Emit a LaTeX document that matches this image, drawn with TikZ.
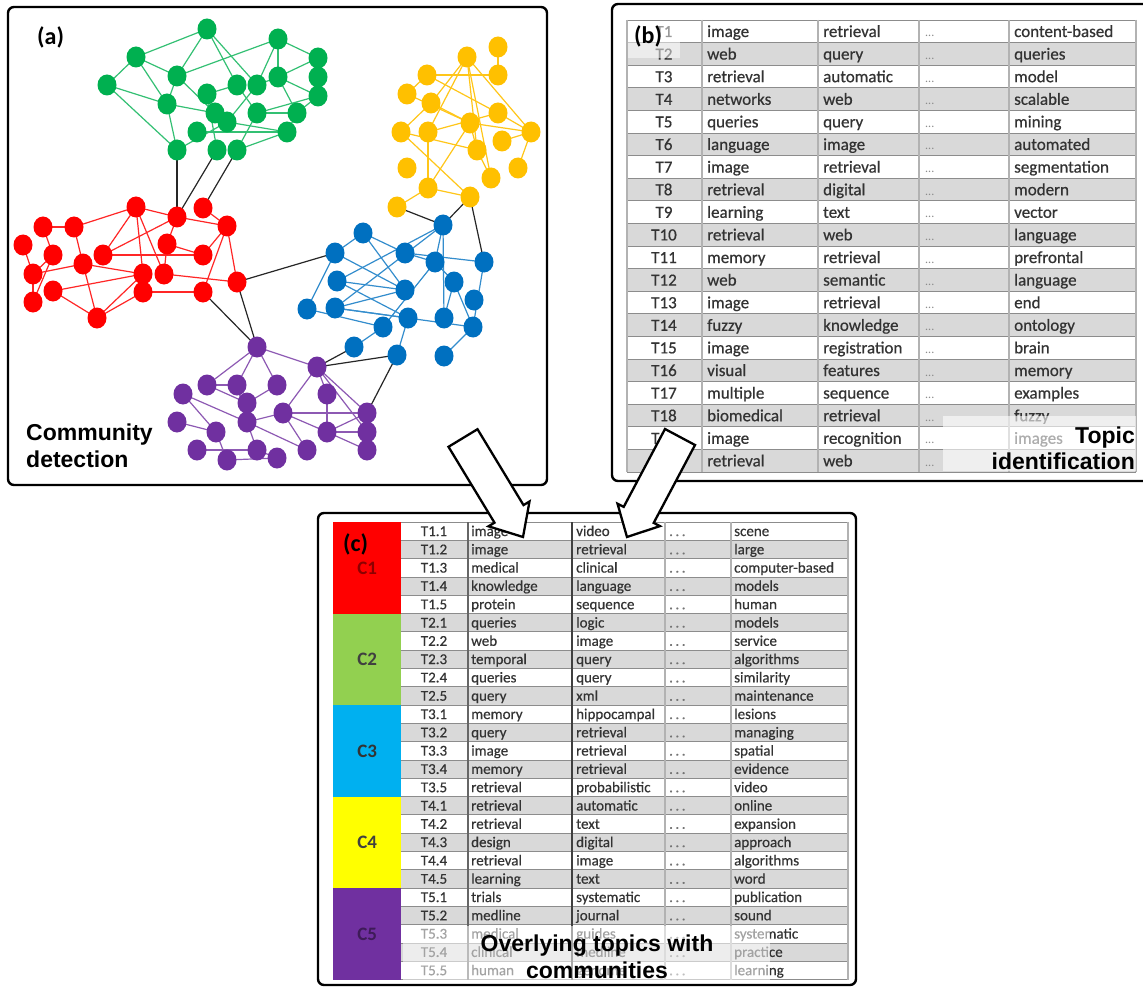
\documentclass[tikz,border=0pt]{standalone}
\usepackage{fontspec}
\setmainfont{Carlito}
\newfontfamily\lsans{Liberation Sans}
\usetikzlibrary{shapes.geometric,backgrounds}
\definecolor{cG}{HTML}{00B050}
\definecolor{cR}{HTML}{FF0000}
\definecolor{cY}{HTML}{FFC000}
\definecolor{cB}{HTML}{0070C0}
\definecolor{cP}{HTML}{7030A0}
\definecolor{rowgray}{HTML}{D9D9D9}
\definecolor{tgray}{HTML}{333333}
\definecolor{cc1}{HTML}{FF0000}
\definecolor{cc2}{HTML}{92D050}
\definecolor{cc3}{HTML}{00B0F0}
\definecolor{cc4}{HTML}{FFFF00}
\definecolor{cc5}{HTML}{7030A0}
\begin{document}
\begin{tikzpicture}[x=1pt,y=-1pt,
  nd/.style={ellipse, minimum width=19pt, minimum height=21pt, inner sep=0pt, draw=none},
  gn/.style={nd, fill=cG}, rn/.style={nd, fill=cR}, yn/.style={nd, fill=cY},
  bn/.style={nd, fill=cB}, pn/.style={nd, fill=cP},
  ge/.style={draw=cG!80!white, line width=1.2pt},
  re/.style={draw=cR!85!white, line width=1.2pt},
  ye/.style={draw=cY!90!white, line width=1.2pt},
  be/.style={draw=cB!80!white, line width=1.2pt},
  pe/.style={draw=cP!80!white, line width=1.2pt},
  xe/.style={draw=black!85, line width=1.2pt},
  panel/.style={draw=black, line width=2.4pt, rounded corners=6pt},
  tb/.style={font=\fontsize{17}{17}\selectfont\addfontfeatures{FakeBold=0.6}, text=tgray, inner sep=0pt},
  tbd/.style={font=\fontsize{12}{12}\selectfont, text=black!45, inner sep=0pt},
  tc/.style={font=\fontsize{15}{15}\selectfont\addfontfeatures{FakeBold=0.4}, text=tgray, inner sep=0pt},
  lab/.style={font=\lsans\bfseries\fontsize{23}{23}\selectfont, inner sep=0pt},
  plab/.style={font=\bfseries\fontsize{24}{24}\selectfont, inner sep=0pt},
  cblock/.style={minimum width=68pt, minimum height=91.5pt, inner sep=0pt, font=\bfseries\fontsize{19}{19}\selectfont},
  bline/.style={draw=black!45, line width=0.8pt},
  bvline/.style={draw=black!30, line width=1.4pt},
  blockarrow/.style={fill=white, draw=black, line width=2.3pt, line join=miter}
]
\useasboundingbox (0,0) rectangle (1143,987);
\begin{scope}[on background layer]
\fill[white] (0,0) rectangle (1143,987);
\end{scope}

% ---------- panels
\draw[panel] (8,7) rectangle (547,485);
\draw[panel] (612,4) rectangle (1165,481);
\draw[panel] (318,513) rectangle (856,985);

% ---------- network nodes
\foreach \n/\x/\y in {1/207/29,2/278/39,3/136/57,4/318/58,5/107/85,6/177/76,7/278/77,8/318/77,9/237/85,10/257/85,11/207/94,12/318/96,13/167/104,14/257/113,15/215/113,16/227/122,17/297/113,18/197/132,19/287/132,20/177/150,21/217/150,22/237/150}
  \node[gn] (g\n) at (\x,\y) {};
\foreach \n/\x/\y in {1/136/207,2/177/217,3/203/208,4/43/227,5/74/227,6/227/226,7/23/245,8/53/255,9/103/255,10/167/244,11/203/255,12/83/264,13/33/274,14/143/274,15/164/274,16/237/282,17/53/291,18/143/292,19/203/292,20/33/302,21/97/318}
  \node[rn] (r\n) at (\x,\y) {};
\foreach \n/\x/\y in {1/498/47,2/467/57,3/427/75,4/498/75,5/407/94,6/431/103,7/498/113,8/470/123,9/401/132,10/428/132,11/531/132,12/502/141,13/477/150,14/407/168,15/518/168,16/491/178,17/428/188,18/470/197,19/397/207}
  \node[yn] (y\n) at (\x,\y) {};
\foreach \n/\x/\y in {1/443/225,2/363/233,3/335/253,4/405/253,5/435/262,6/484/262,7/337/281,8/405/290,9/454/282,10/474/300,11/307/309,12/335/308,13/408/318,14/444/318,15/383/327,16/473/327,17/354/347,18/397/355,19/444/356}
  \node[bn] (b\n) at (\x,\y) {};
\foreach \n/\x/\y in {1/257/347,2/317/367,3/207/385,4/237/385,5/277/385,6/183/394,7/327/394,8/247/403,9/283/413,10/367/413,11/177/422,12/247/422,13/216/432,14/327/432,15/367/432,16/197/450,17/257/450,18/307/450,19/367/450,20/227/460,21/277/458}
  \node[pn] (p\n) at (\x,\y) {};

% ---------- network edges (behind the nodes)
\begin{scope}[on background layer]
\foreach \a/\b in {1/3,1/6,1/9,1/10,3/5,3/6,3/13,5/13,5/20,6/2,6/13,6/15,2/4,2/7,2/10,4/7,4/8,8/12,7/12,7/17,9/11,9/14,10/7,12/14,14/17,14/22,13/15,13/20,15/16,16/19,18/19,19/22,20/16,11/21,17/19,10/16,12/17}
  \draw[ge] (g\a.center) -- (g\b.center);
\foreach \a/\b in {1/5,1/2,1/9,1/14,1/15,2/6,2/9,2/10,3/6,4/5,4/8,5/12,6/11,6/16,6/19,7/13,8/13,9/11,10/11,12/13,12/21,14/17,14/21,15/16,17/21,18/19,18/21,13/20,15/10,12/14,8/20}
  \draw[re] (r\a.center) -- (r\b.center);
\foreach \a/\b in {1/4,3/4,2/6,2/10,2/13,2/16,2/11,3/7,3/5,5/8,6/8,9/13,10/7,8/11,7/11,8/17,10/17,9/18,17/18,19/17,13/16,8/13,12/11,15/11,9/6}
  \draw[ye] (y\a.center) -- (y\b.center);
\foreach \a/\b in {2/3,2/4,2/8,3/11,3/8,1/7,1/12,1/5,1/14,4/6,4/5,5/9,6/16,7/13,8/12,9/16,11/15,12/16,13/18,15/17,16/19,5/15,7/8,9/14,12/13}
  \draw[be] (b\a.center) -- (b\b.center);
\foreach \a/\b in {1/3,1/4,1/5,1/2,2/7,2/9,2/10,3/4,3/8,4/12,5/8,6/12,6/13,9/10,9/14,9/18,10/14,10/19,11/13,12/18,12/17,12/9,13/20,14/15,14/19,16/17,20/21,7/14,2/15,17/21,8/12}
  \draw[pe] (p\a.center) -- (p\b.center);
\draw[xe] (g20.center) -- (r2.center);
\draw[xe] (g21.center) -- (r2.center);
\draw[xe] (g22.center) -- (r3.center);
\draw[xe] (r16.center) -- (b3.center);
\draw[xe] (r16.center) -- (p1.center);
\draw[xe] (r19.center) -- (p1.center);
\draw[xe] (y19.center) -- (b1.center);
\draw[xe] (y18.center) -- (b1.center);
\draw[xe] (y18.center) -- (b6.center);
\draw[xe] (p2.center) -- (b17.center);
\draw[xe] (p2.center) -- (b18.center);
\draw[xe] (b18.center) -- (p10.center);
\end{scope}

\node[plab, anchor=base west] (la) at (37,45) {(a)};
\node[lab, anchor=base west] (cd1) at (26,440) {Community};
\node[lab, anchor=base west] (cd2) at (26,467) {detection};

% ---------- table (b)
\foreach \t/\a/\bb/\e [count=\k] in {T1/image/retrieval/content-based,T2/web/query/queries,T3/retrieval/automatic/model,T4/networks/web/scalable,T5/queries/query/mining,T6/language/image/automated,T7/image/retrieval/segmentation,T8/retrieval/digital/modern,T9/learning/text/vector,T10/retrieval/web/language,T11/memory/retrieval/prefrontal,T12/web/semantic/language,T13/image/retrieval/end,T14/fuzzy/knowledge/ontology,T15/image/registration/brain,T16/visual/features/memory,T17/multiple/sequence/examples,T18/biomedical/retrieval/fuzzy,T19/image/recognition/images,T20/retrieval/web/{}}{
  \pgfmathsetmacro\yt{20+(\k-1)*22.6}
  \pgfmathsetmacro\yb{\yt+17}
  \ifodd\k \def\rf{white}\else\def\rf{rowgray}\fi
  \fill[\rf] (627,\yt) rectangle (1136,\yt+22.6);
  \node[tb, anchor=base] (bl\k) at (664,\yb) {\t};
  \node[tb, anchor=base west] (bw\k) at (707,\yb) {\a};
  \node[tb, anchor=base west] (bx\k) at (823,\yb) {\bb};
  \node[tbd, anchor=base west] (bd\k) at (925,\yb) {...};
  \node[tb, anchor=base west] (be\k) at (1014,\yb) {\e};
}
\foreach \k in {0,...,20} \draw[bline] (627,{20+\k*22.6}) -- (1136,{20+\k*22.6});
\foreach \x in {627,702,818,919,1009,1136} \draw[bvline] (\x,20) -- (\x,472);
\fill[white, opacity=0.5] (628,21) rectangle (680,58);
\fill[white, opacity=0.6] (943,416) rectangle (1136,471);
\node[plab, anchor=base west] (lb) at (634,44) {(b)};
\node[lab, anchor=base east] (ti1) at (1135,443) {Topic};
\node[lab, anchor=base east] (ti2) at (1135,469) {identification};

% ---------- table (c)
\foreach \t/\a/\bb/\e [count=\k] in {T1.1/image/video/scene,T1.2/image/retrieval/large,T1.3/medical/clinical/computer-based,T1.4/knowledge/language/models,T1.5/protein/sequence/human,T2.1/queries/logic/models,T2.2/web/image/service,T2.3/temporal/query/algorithms,T2.4/queries/query/similarity,T2.5/query/xml/maintenance,T3.1/memory/hippocampal/lesions,T3.2/query/retrieval/managing,T3.3/image/retrieval/spatial,T3.4/memory/retrieval/evidence,T3.5/retrieval/probabilistic/video,T4.1/retrieval/automatic/online,T4.2/retrieval/text/expansion,T4.3/design/digital/approach,T4.4/retrieval/image/algorithms,T4.5/learning/text/word,T5.1/trials/systematic/publication,T5.2/medline/journal/sound,T5.3/medical/guides/systematic,T5.4/clinical/medline/practice,T5.5/human/genome/learning}{
  \pgfmathsetmacro\yt{522+(\k-1)*18.3}
  \pgfmathsetmacro\yb{\yt+14}
  \ifodd\k \def\rf{white}\else\def\rf{rowgray}\fi
  \fill[\rf] (401,\yt) rectangle (848,\yt+18.3);
  \node[tc, anchor=base] (cl\k) at (434,\yb) {\t};
  \node[tc, anchor=base west] (cw\k) at (471,\yb) {\a};
  \node[tc, anchor=base west] (cx\k) at (576,\yb) {\bb};
  \node[tc, anchor=base west, text=black!55] (cd\k) at (669,\yb) {.\,.\,.};
  \node[tc, anchor=base west] (ce\k) at (734,\yb) {\e};
}
\foreach \k in {0,...,25} \draw[bline] (401,{522+\k*18.3}) -- (848,{522+\k*18.3});
\foreach \x in {665,731,848} \draw[bvline, line width=1.1pt] (\x,522) -- (\x,979.5);
\draw[draw=black!60, line width=1.1pt] (468,522) -- (468,979.5);
\draw[draw=black!75, line width=1.1pt] (572,522) -- (572,979.5);
\node[cblock, anchor=north west, fill=cc1, text=cc1!55!black] (C1) at (333,522) {\raisebox{-12pt}{C1}};
\node[cblock, anchor=north west, fill=cc2, text=black!75] (C2) at (333,613.5) {C2};
\node[cblock, anchor=north west, fill=cc3, text=black!80] (C3) at (333,705) {C3};
\node[cblock, anchor=north west, fill=cc4, text=black!75] (C4) at (333,796.5) {C4};
\node[cblock, anchor=north west, fill=cc5, text=cc5!55!black] (C5) at (333,888) {C5};
\node[plab, anchor=base west] (lc) at (343,551) {(c)};
\fill[white, opacity=0.55] (403,926) rectangle (770,980);
\node[lab, anchor=base] (ot1) at (597,951) {Overlying topics with};
\node[lab, anchor=base] (ot2) at (597,978) {communities};

% ---------- block arrows
\draw[blockarrow] (477.5,429.2) -- (523.5,505.1) -- (529.5,501.5) -- (523,537) -- (488.5,526.3) -- (494.5,522.7) -- (448.5,446.8) -- cycle;
\draw[blockarrow] (695.0,445.0) -- (653.7,522.9) -- (659.9,526.1) -- (627,537) -- (617.5,503.7) -- (623.7,506.9) -- (665.0,429.0) -- cycle;
\end{tikzpicture}
\end{document}
